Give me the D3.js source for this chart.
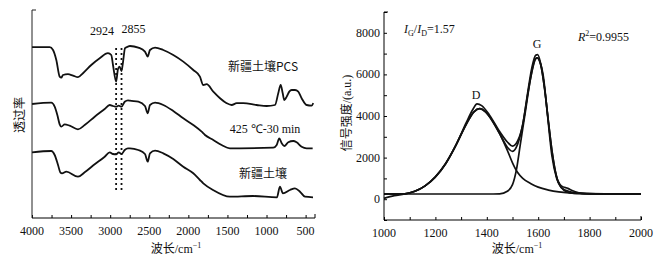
<!DOCTYPE html>
<html>
<head>
<meta charset="utf-8">
<script src="https://cdn.jsdelivr.net/npm/d3@7"></script>
<style>
  body { margin: 0; background: #fff; }
  text { font-family: "Liberation Serif", "Times New Roman", serif; fill: #111; }
  .cjk { font-family: "Noto Sans CJK SC", sans-serif; }
</style>
</head>
<body>
<div id="wrapper"></div>
<script>
/// FTIR data (wavenumber cm-1, transmittance a.u.) ///
const pcsWave = [4000, 3774, 3731, 3689, 3646, 3625, 3604, 3540, 3476, 3412, 3348, 3242, 3134, 3028, 2986, 2964, 2924, 2900, 2880, 2855, 2835, 2810, 2772,
  2747, 2640, 2555, 2520, 2491, 2426, 2321, 2193, 2065, 1937, 1852, 1809, 1766, 1681, 1595, 1510, 1446, 1382, 1297, 1126, 998, 892, 850, 819, 793, 773, 742, 709, 678, 636, 594, 551, 487, 423, 402];
const pcsT = [85.4, 85.4, 84, 79, 70.7, 70.2, 71.5, 71.9, 71.2, 70.4, 72.4, 76.5, 79.9, 82.4, 81.5, 76.5, 68.2, 74.5, 75.7, 73.5, 78.2, 84.9, 85.7,
  86, 85.2, 83.2, 80.7, 84, 85.2, 84, 81.5, 78.2, 74, 70.7, 66.5, 66.9, 63.2, 59.9, 57.4, 56.5, 57.4, 57.4, 56.5, 56, 56.5, 62.4, 66.5, 62.4, 59, 60.7, 63.2, 64, 64, 63.2, 59.9, 56.5, 56.2, 57.4];

const heatWave = [4000, 3753, 3710, 3676, 3646, 3625, 3582, 3518, 3412, 3326, 3198, 3070, 3006, 2964, 2924, 2891, 2855, 2814, 2772, 2747, 2640, 2555, 2520, 2491, 2426, 2321, 2193, 2065, 1937, 1830, 1787, 1681, 1574, 1468, 1340, 914, 870, 837, 806, 773, 722, 658, 615, 551, 487, 410];
const heatT = [57, 57.65, 55.65, 51.5, 46.85, 45.65, 46.85, 46.15, 44.35, 46.5, 50.65, 54.5, 56.5, 56, 55.65, 56.15, 55.65, 58.15, 58.85, 58.65, 58.15, 56, 52.35, 56.5, 57.65, 56.5, 53.5, 49.85, 46.5, 43.15, 41.5, 39, 36.5, 34.85, 34.85, 35.15, 36.5, 39.85, 37.35, 36, 37.85, 38.5, 37.85, 35.65, 34.85, 34.85];

const soilWave = [4000, 3753, 3710, 3667, 3638, 3616, 3561, 3412, 3326, 3198, 3070, 3006, 2964, 2924, 2891, 2855, 2814, 2772, 2747, 2640, 2555, 2520, 2491, 2426, 2321, 2193, 2065, 1937, 1852, 1809, 1685, 1468, 1174, 867, 829, 790, 700, 636, 572, 508, 405];
const soilT = [32.85, 33.5, 31.5, 26.5, 22.85, 22.35, 23.15, 20.65, 22.85, 26.85, 30.65, 32.85, 32, 31.85, 32.85, 32, 34, 34.85, 34.85, 34, 32, 28.15, 32.35, 33.65, 32.35, 29.5, 25.65, 22.35, 19, 17.35, 14, 10.65, 11, 10.35, 15.65, 12.35, 14, 14.85, 13.15, 10.65, 10.35];

const ftirNames = ["新疆土壤PCS", "425 ℃-30 min", "新疆土壤"];
const markWaves = [2924, 2855];
const ftirTicks = [4000, 3500, 3000, 2500, 2000, 1500, 1000, 500];

/// Raman data (cm-1, intensity a.u.) ///
const rawWave = [1000, 1040, 1080, 1120, 1160, 1200, 1240, 1280, 1320, 1345, 1362, 1380, 1410, 1450, 1480, 1500, 1520, 1540, 1560, 1575, 1590, 1598, 1610, 1625, 1640, 1655, 1670, 1690, 1715, 1740, 1770, 1800, 1850, 1900, 1950, 2000];
const rawI = [40, 170, 250, 380, 640, 1080, 1720, 2600, 3680, 4300, 4580, 4500, 4050, 3250, 2750, 2550, 2800, 3600, 5200, 6300, 6920, 6950, 6500, 5300, 3700, 2200, 1150, 640, 520, 380, 280, 270, 250, 240, 250, 240];

const fitWave = [1000, 1080, 1120, 1160, 1200, 1240, 1280, 1320, 1350, 1372, 1395, 1420, 1450, 1480, 1500, 1520, 1540, 1560, 1575, 1590, 1598, 1610, 1625, 1640, 1655, 1670, 1690, 1720, 1760, 1800, 1900, 2000];
const fitI = [250, 260, 380, 640, 1080, 1720, 2600, 3600, 4200, 4350, 4200, 3800, 3150, 2500, 2300, 2650, 3600, 5100, 6100, 6750, 6800, 6450, 5300, 3700, 2200, 1150, 560, 370, 290, 260, 250, 250];

const dWave = [1000, 1080, 1120, 1160, 1200, 1240, 1280, 1320, 1350, 1372, 1395, 1420, 1450, 1480, 1500, 1520, 1540, 1570, 1600, 1640, 1680, 1720, 1760, 1800, 1900, 2000];
const dI = [250, 260, 380, 640, 1060, 1700, 2600, 3600, 4200, 4350, 4200, 3800, 3150, 2350, 1750, 1280, 1000, 760, 580, 440, 350, 300, 280, 265, 255, 250];

const gWave = [1000, 1400, 1450, 1480, 1500, 1515, 1530, 1550, 1570, 1584, 1595, 1605, 1620, 1635, 1653, 1672, 1690, 1710, 1740, 1800, 2000];
const gI = [250, 250, 260, 380, 700, 1400, 2600, 4200, 5800, 6600, 6800, 6650, 5900, 4200, 2120, 1000, 560, 360, 280, 255, 250];

const ramanXTicks = [1000, 1200, 1400, 1600, 1800, 2000];
const ramanYTicks = [0, 2000, 4000, 6000, 8000];

/// Dimensions ///
const width = 662, height = 265;
const L = { left: 32, right: 315, top: 10, bottom: 218 };
const R = { left: 384, right: 641, top: 12, bottom: 220 };

const svg = d3.select("#wrapper").append("svg")
  .attr("width", width)
  .attr("height", height);
svg.append("rect").attr("width", width).attr("height", height).attr("fill", "#fff");

const zip = (xs, ys) => xs.map((x, i) => ({ x, y: ys[i] }));

// "波长/cm-1" with superscript
const axisTitle = (sel) => {
  sel.append("tspan").attr("class", "cjk").text("波长");
  sel.append("tspan").text("/cm");
  sel.append("tspan").attr("dy", -5).attr("font-size", 8).text("−1");
};

/// Left panel: FTIR ///
const x1 = d3.scaleLinear().domain([4000, 380]).range([L.left, L.right]);
const y1 = d3.scaleLinear().domain([0, 104]).range([L.bottom, L.top]);

const line1 = d3.line().x(d => x1(d.x)).y(d => y1(d.y)).curve(d3.curveMonotoneX);

const ftir = [zip(pcsWave, pcsT), zip(heatWave, heatT), zip(soilWave, soilT)];
svg.append("g").selectAll("path")
  .data(ftir)
  .join("path")
    .attr("d", line1)
    .attr("fill", "none")
    .attr("stroke", "#111")
    .attr("stroke-width", 1.8);

// dotted guide lines
svg.append("g").selectAll("line")
  .data(markWaves)
  .join("line")
    .attr("x1", d => x1(d)).attr("x2", d => x1(d))
    .attr("y1", y1(85)).attr("y2", y1(14))
    .attr("stroke", "#111")
    .attr("stroke-width", 1.8)
    .attr("stroke-dasharray", "2,3");

svg.append("text").attr("x", x1(2924) - 14).attr("y", 35).attr("text-anchor", "middle").attr("font-size", 12).text("2924");
svg.append("text").attr("x", x1(2855) + 12).attr("y", 33).attr("text-anchor", "middle").attr("font-size", 12).text("2855");

// series names
const namePos = [[263, 71], [265, 133], [263, 178]];
svg.append("g").selectAll("text")
  .data(ftirNames)
  .join("text")
    .attr("x", (d, i) => namePos[i][0])
    .attr("y", (d, i) => namePos[i][1])
    .attr("text-anchor", "middle")
    .attr("font-size", 12)
    .attr("class", (d, i) => i === 1 ? null : "cjk")
    .text(d => d);

// axes
const xAxis1 = svg.append("g")
  .attr("transform", `translate(0, ${L.bottom})`)
  .call(d3.axisBottom(x1).tickValues(d3.range(4000, 380, -250)).tickSize(-3).tickFormat(""));
xAxis1.select(".domain").attr("d", `M${L.left},0H${L.right}V-4`);
svg.append("g")
  .attr("transform", `translate(0, ${L.bottom})`)
  .selectAll("text")
  .data(ftirTicks)
  .join("text")
    .attr("x", d => x1(d))
    .attr("y", 17)
    .attr("text-anchor", "middle")
    .attr("font-size", 12)
    .text(d => d);
svg.append("path")
  .attr("d", `M${L.left},${L.bottom}V${L.top}h4`)
  .attr("fill", "none").attr("stroke", "#222");

svg.append("text").attr("x", 176).attr("y", 253).attr("text-anchor", "middle").attr("font-size", 12).call(axisTitle);
svg.append("text")
  .attr("class", "cjk")
  .attr("transform", "translate(24, 115) rotate(-90)")
  .attr("text-anchor", "middle")
  .attr("font-size", 12)
  .text("透过率");

/// Right panel: Raman ///
const x2 = d3.scaleLinear().domain([1000, 2000]).range([R.left, R.right]);
const y2 = d3.scaleLinear().domain([-1000, 9000]).range([R.bottom, R.top]);

const line2 = d3.line().x(d => x2(d.x)).y(d => y2(d.y)).curve(d3.curveMonotoneX);

const raman = [zip(gWave, gI), zip(dWave, dI), zip(fitWave, fitI), zip(rawWave, rawI)];
svg.append("g").selectAll("path")
  .data(raman)
  .join("path")
    .attr("d", line2)
    .attr("fill", "none")
    .attr("stroke", "#111")
    .attr("stroke-width", 1.7);

svg.append("g")
  .attr("transform", `translate(0, ${R.bottom})`)
  .call(d3.axisBottom(x2).tickValues(d3.range(1000, 2001, 100)).tickSize(-3).tickFormat(""))
  .select(".domain").attr("d", `M${R.left},0H${R.right}V-4`);
svg.append("g")
  .attr("transform", `translate(0, ${R.bottom})`)
  .selectAll("text")
  .data(ramanXTicks)
  .join("text")
    .attr("x", d => x2(d))
    .attr("y", 17)
    .attr("text-anchor", "middle")
    .attr("font-size", 12)
    .text(d => d);

svg.append("g")
  .attr("transform", `translate(${R.left}, 0)`)
  .call(d3.axisLeft(y2).tickValues(d3.range(-1000, 9001, 1000)).tickSize(-3).tickFormat(""))
  .select(".domain").attr("d", `M4,${R.top}H0V${R.bottom}`);
svg.append("g")
  .selectAll("text")
  .data(ramanYTicks)
  .join("text")
    .attr("x", R.left - 4)
    .attr("y", d => y2(d) + 4)
    .attr("text-anchor", "end")
    .attr("font-size", 12)
    .text(d => d);

svg.append("text").attr("x", 517).attr("y", 253).attr("text-anchor", "middle").attr("font-size", 12).call(axisTitle);
svg.append("text")
  .attr("transform", "translate(351, 113) rotate(-90)")
  .attr("text-anchor", "middle")
  .attr("font-size", 12)
  .call(t => {
    t.append("tspan").attr("class", "cjk").text("信号强度");
    t.append("tspan").text("/(a.u.)");
  });

// annotations
const ratio = svg.append("text").attr("x", 404).attr("y", 33).attr("font-size", 12);
ratio.append("tspan").attr("font-style", "italic").text("I");
ratio.append("tspan").attr("font-size", 8).attr("dy", 3).text("G");
ratio.append("tspan").attr("dy", -3).text("/");
ratio.append("tspan").attr("font-style", "italic").text("I");
ratio.append("tspan").attr("font-size", 8).attr("dy", 3).text("D");
ratio.append("tspan").attr("dy", -3).text("=1.57");

const r2 = svg.append("text").attr("x", 578).attr("y", 41).attr("font-size", 12);
r2.append("tspan").attr("font-style", "italic").text("R");
r2.append("tspan").attr("font-size", 8).attr("dy", -5).text("2");
r2.append("tspan").attr("dy", 5).text("=0.9955");

svg.append("text").attr("x", 537).attr("y", 48).attr("text-anchor", "middle").attr("font-size", 12).text("G");
svg.append("text").attr("x", 476).attr("y", 99).attr("text-anchor", "middle").attr("font-size", 12).text("D");
</script>
</body>
</html>
